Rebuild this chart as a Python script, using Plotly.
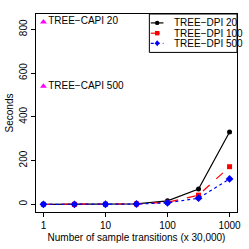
import plotly.graph_objects as go

x_vals = [1, 3.16, 10, 31.6, 100, 316, 1000]
dpi20 = [0, 0, 0.5, 2, 16, 70, 331]
dpi100 = [0, 0, 0.5, 2, 9, 42, 172]
dpi500 = [0, 0, 0.5, 1.5, 7, 28, 116]
capi_x = [1, 1]
capi_y = [834, 540]
capi_labels = ["TREE\u2212CAPI 20", "TREE\u2212CAPI 500"]
legend_names = ["TREE\u2212DPI 20", "TREE\u2212DPI 100", "TREE\u2212DPI 500"]
colors = ["black", "red", "blue"]
dashes = ["solid", "dash", "dot"]
symbols = ["circle", "square", "diamond"]

font = "Liberation Sans, Arial, sans-serif"
fig = go.Figure()
for name, ys, c, d, s in zip(legend_names, [dpi20, dpi100, dpi500], colors, dashes, symbols):
    fig.add_trace(go.Scatter(x=x_vals, y=ys, mode="lines+markers", name=name, showlegend=False,
                             line=dict(color=c, width=1.2, dash=d),
                             marker=dict(symbol=s, size=6 if s == "diamond" else 5, color=c)))
fig.add_trace(go.Scatter(x=capi_x, y=capi_y, mode="markers+text", showlegend=False,
                         text=capi_labels, textposition="middle right",
                         textfont=dict(family=font, size=10, color="black"),
                         marker=dict(symbol="triangle-up", size=6, color="magenta")))

# manual compact legend (R-style)
shapes = [dict(type="rect", xref="paper", yref="paper", x0=0.564, x1=1.0, y0=0.806, y1=1.0,
               line=dict(color="black", width=1), fillcolor="white", layer="above")]
annotations = []
rows = [0.955, 0.903, 0.852]
for name, c, d, s, yy in zip(legend_names, colors, dashes, symbols, rows):
    shapes.append(dict(type="line", xref="paper", yref="paper", x0=0.571, x1=0.634, y0=yy, y1=yy,
                       line=dict(color=c, width=1.2, dash=d), layer="above"))
    common = dict(xref="paper", yref="paper", xsizemode="pixel", ysizemode="pixel",
                  xanchor=0.603, yanchor=yy, fillcolor=c, line=dict(color=c, width=0), layer="above")
    if s == "circle":
        shapes.append(dict(type="circle", x0=-2.2, x1=2.2, y0=-2.2, y1=2.2, **common))
    elif s == "square":
        shapes.append(dict(type="rect", x0=-2.2, x1=2.2, y0=-2.2, y1=2.2, **common))
    else:
        shapes.append(dict(type="path", path="M 0 3 L 2.5 0 L 0 -3 L -2.5 0 Z", **common))
    annotations.append(dict(xref="paper", yref="paper", x=0.675, y=yy, text=name, showarrow=False,
                            xanchor="left", yanchor="middle", font=dict(family=font, size=10, color="black")))

fig.update_layout(
    width=249, height=249,
    margin=dict(l=36, r=8, t=14, b=29),
    paper_bgcolor="white", plot_bgcolor="white",
    font=dict(family=font, size=10, color="black"),
    showlegend=False, hovermode=False,
    shapes=shapes, annotations=annotations,
)
fig.update_xaxes(type="log", range=[-0.12, 3.12], showgrid=False, zeroline=False,
                 showline=True, linecolor="black", linewidth=1, mirror=True,
                 ticks="outside", ticklen=4, tickcolor="black",
                 tickvals=[1, 10, 100, 1000], ticktext=["1", "10", "100", "1000"],
                 title=dict(text="Number of sample transitions (x 30,000)", standoff=3,
                            font=dict(size=10)))
fig.update_yaxes(range=[-35, 870], showgrid=False, zeroline=False,
                 showline=True, linecolor="black", linewidth=1, mirror=True,
                 ticks="outside", ticklen=4, tickcolor="black",
                 tickvals=[0, 200, 400, 600, 800], tickangle=-90,
                 title=dict(text="Seconds", standoff=2, font=dict(size=10)))
fig.write_html("out.html", config={"displayModeBar": False},
               post_script="document.body.style.margin='0';"
                           "document.documentElement.style.overflow='hidden';"
                           "document.body.style.overflow='hidden';"
                           "window.scrollTo(0,0);")
